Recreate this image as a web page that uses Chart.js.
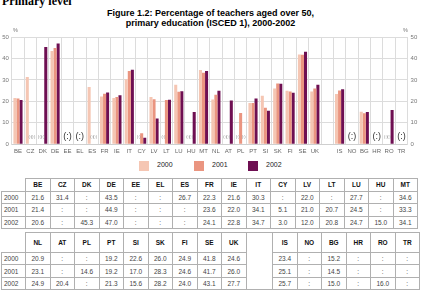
<!DOCTYPE html>
<html><head><meta charset="utf-8">
<script src="https://cdn.jsdelivr.net/npm/chart.js@4/dist/chart.umd.min.js"></script>
<style>
html,body{margin:0;padding:0;background:#fff;width:421px;height:293px;overflow:hidden;font-family:"Liberation Sans",Arial,sans-serif;}
#wrap{position:relative;width:421px;height:293px;overflow:hidden;}
#lvl{position:absolute;left:2px;top:-5px;font:bold 12px "Liberation Serif",serif;line-height:12px;white-space:nowrap;}
#title{position:absolute;left:0;width:421px;top:8px;text-align:center;font:bold 9px "Liberation Sans",Arial,sans-serif;line-height:10px;color:#000;}
#cv{position:absolute;left:0;top:0;}
.pct{position:absolute;top:27px;font:5.5px "Liberation Sans",Arial,sans-serif;color:#777;}
.sw{position:absolute;top:161px;width:10px;height:10px;}
.lt{position:absolute;top:161px;line-height:10px;font:7px "Liberation Sans",Arial,sans-serif;color:#222;}
table{border-collapse:collapse;position:absolute;left:1px;table-layout:fixed;font-family:"Liberation Sans",Arial,sans-serif;font-size:6.5px;}
td{border:1px solid #b0b0b0;text-align:center;padding:0;color:#444;overflow:hidden;white-space:nowrap;}
td.h{font-weight:bold;color:#111;}
td.lab{text-align:left;padding-left:2px;}
td.blank{border-top:none;border-left:none;}
</style></head>
<body><div id="wrap">
<div id="lvl">Primary level</div>
<div id="title">Figure 1.2: Percentage of teachers aged over 50,<br>primary education (ISCED 1), 2000-2002</div>
<canvas id="cv" width="421" height="160"></canvas>
<div class="pct" style="left:13px">%</div>
<div class="pct" style="left:403px">%</div>
<div id="legend"></div>
<table id="t1"></table>
<table id="t2"></table>
</div>
<script>
const categories = ['BE','CZ','DK','DE','EE','EL','ES','FR','IE','IT','CY','LV','LT','LU','HU','MT','NL','AT','PL','PT','SI','SK','FI','SE','UK','','IS','NO','BG','HR','RO','TR'];
const years = ['2000','2001','2002'];
const v2000 = [21.6,31.4,null,43.5,null,null,26.7,22.3,21.6,30.3,null,22.0,null,27.7,null,34.6,20.9,null,null,19.2,22.6,26.0,24.9,41.8,24.6,null,23.4,null,15.2,null,null,null];
const v2001 = [21.4,null,null,44.9,null,null,null,23.6,22.0,34.1,5.1,21.0,20.7,24.5,null,33.3,23.1,null,14.6,19.2,17.0,28.3,24.6,41.7,26.0,null,25.1,null,14.5,null,null,null];
const v2002 = [20.6,null,45.3,47.0,null,null,null,24.1,22.8,34.7,3.0,12.0,20.8,24.7,15.0,34.1,24.9,20.4,null,21.3,15.6,28.2,24.0,43.1,27.7,null,25.7,null,15.0,null,16.0,null];
const yTicks = [0,10,20,30,40,50];
const colors = ['#F5C6B3','#EA9580','#6E0F52'];
const series = [v2000, v2001, v2002];
const missingLabel = '(:)';

// legend
const legPos = [[139,157],[194,212],[248,266]];
let lh = '';
years.forEach((y,i)=>{
  lh += `<div class="sw" style="left:${legPos[i][0]}px;background:${colors[i]}"></div><div class="lt" style="left:${legPos[i][1]}px">${y}</div>`;
});
document.getElementById('legend').innerHTML = lh;

// tables
const fmt = v => v === null ? ':' : v.toFixed(1);
function buildTable(id, idxs, top, headH, rowH, gapW){
  const t = document.getElementById(id);
  t.style.top = top + 'px';
  let cg = '<colgroup><col style="width:24px">';
  idxs.forEach(i => { cg += categories[i] === '' ? `<col style="width:${gapW}px">` : '<col style="width:24.5px">'; });
  cg += '</colgroup>';
  let h = cg + `<tr style="height:${headH}px"><td class="blank"></td>`;
  idxs.forEach(i => {
    if (categories[i] === '') h += `<td rowspan="4"></td>`;
    else h += `<td class="h">${categories[i]}</td>`;
  });
  h += '</tr>';
  series.forEach((s,k)=>{
    h += `<tr style="height:${rowH}px"><td class="lab">${years[k]}</td>`;
    idxs.forEach(i => { if (categories[i] !== '') h += `<td>${fmt(s[i])}</td>`; });
    h += '</tr>';
  });
  t.innerHTML = h;
}
buildTable('t1', [...Array(16).keys()], 178, 12.5, 12.5, 0);
buildTable('t2', [...Array(16).keys()].map(k=>k+16), 232, 20, 12.4, 26.5);

const annot = {
  id:'annot',
  afterDatasetsDraw(chart){
    const ctx = chart.ctx, xs = chart.scales.x, ys = chart.scales.y;
    const yy = ys.getPixelForValue(3.5);
    ctx.save();
    ctx.textAlign = 'center'; ctx.textBaseline = 'middle';
    categories.forEach((c,i)=>{
      if (c === '') return;
      const miss = series.map(s => s[i] === null);
      if (miss.every(Boolean)) {
        ctx.font = '9px "Liberation Sans", Arial, sans-serif';
        ctx.fillStyle = '#333';
        ctx.fillText(missingLabel, xs.getPixelForValue(i), yy);
      } else {
        ctx.font = '4px "Liberation Sans", Arial, sans-serif';
        ctx.fillStyle = '#888';
        miss.forEach((m,j)=>{
          if (!m) return;
          const el = chart.getDatasetMeta(j).data[i];
          ctx.fillText(missingLabel, el.x, yy);
        });
      }
    });
    ctx.restore();
  }
};

const font = {family:'"Liberation Sans", Arial, sans-serif', size:6};
new Chart(document.getElementById('cv'), {
  type:'bar',
  data:{
    labels: categories,
    datasets: series.map((s,k)=>({label:years[k], data:s, backgroundColor:colors[k], borderWidth:0, categoryPercentage:0.74, barPercentage:1.0}))
  },
  options:{
    responsive:false, animation:false, devicePixelRatio:1,
    layout:{padding:{top:37,left:0,right:0,bottom:0}},
    plugins:{legend:{display:false}, title:{display:false}, tooltip:{enabled:false}},
    scales:{
      x:{
        grid:{color:'#dcdcdc', offset:true, drawTicks:false},
        border:{color:'#cfcfcf'},
        ticks:{font, color:'#666', padding:3, autoSkip:false, maxRotation:0, minRotation:0},
        afterFit: s => { s.height = 15.7; }
      },
      y:{
        position:'left', min:0, max:50,
        afterBuildTicks: s => { s.ticks = yTicks.map(v=>({value:v})); },
        grid:{color:'#dcdcdc', drawTicks:false},
        border:{color:'#dcdcdc'},
        ticks:{font, color:'#777', padding:3},
        afterFit: s => { s.width = 11.8; }
      },
      y2:{
        position:'right', min:0, max:50,
        afterBuildTicks: s => { s.ticks = yTicks.map(v=>({value:v})); },
        grid:{display:false, drawTicks:false},
        border:{color:'#dcdcdc'},
        ticks:{font, color:'#777', padding:3},
        afterFit: s => { s.width = 13.4; }
      }
    }
  },
  plugins:[annot]
});
</script>
</body></html>
